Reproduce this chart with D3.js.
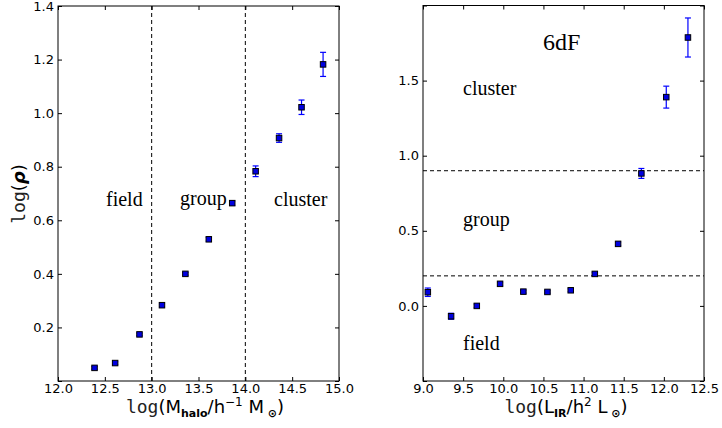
<!DOCTYPE html>
<html>
<head>
<meta charset="utf-8">
<script src="https://cdn.jsdelivr.net/npm/d3@7"></script>
<style>
  body { margin: 0; background: #fff; }
  svg { display: block; }
  .tick text { font-family: "DejaVu Sans", sans-serif; font-size: 13px; fill: #000; }
  .tick line { stroke: #000; stroke-width: 1; }
  .note { font-family: "Liberation Serif", serif; font-size: 20px; fill: #000; }
</style>
</head>
<body>
<svg id="chart" width="722" height="428"></svg>
<script>
// left panel: density vs halo mass
const massX   = [12.39, 12.61, 12.87, 13.11, 13.36, 13.61, 13.86, 14.11, 14.36, 14.60, 14.83];
const massRho = [0.049, 0.067, 0.174, 0.283, 0.400, 0.529, 0.664, 0.783, 0.907, 1.022, 1.182];
const massErr = [0.005, 0.005, 0.005, 0.005, 0.005, 0.007, 0.008, 0.020, 0.016, 0.027, 0.045];
const massCuts = [13.0, 14.0];
const massTicksX = [12.0, 12.5, 13.0, 13.5, 14.0, 14.5, 15.0];
const massTicksY = [0.0, 0.2, 0.4, 0.6, 0.8, 1.0, 1.2, 1.4];

// right panel: density vs IR luminosity (6dF)
const lirX   = [9.06, 9.35, 9.67, 9.96, 10.25, 10.55, 10.84, 11.14, 11.43, 11.72, 12.03, 12.30];
const lirRho = [0.091, -0.069, 0.0, 0.147, 0.095, 0.093, 0.104, 0.213, 0.413, 0.882, 1.39, 1.787];
const lirErr = [0.028, 0.02, 0.012, 0.01, 0.01, 0.008, 0.01, 0.01, 0.012, 0.033, 0.073, 0.13];
const lirCuts = [0.2, 0.9];
const lirTicksX = [9.0, 9.5, 10.0, 10.5, 11.0, 11.5, 12.0, 12.5];
const lirTicksY = [-0.5, 0.0, 0.5, 1.0, 1.5, 2.0];

const svg = d3.select("#chart");

function panel(opt) {
    const x = d3.scaleLinear().domain(opt.xDomain).range([opt.left, opt.right]);
    const y = d3.scaleLinear().domain(opt.yDomain).range([opt.bottom, opt.top]);
    const g = svg.append("g");
    const fmt = d3.format(".1f");

    // inward ticks on all four sides
    g.append("g")
        .attr("transform", `translate(0,${opt.bottom})`)
        .call(d3.axisBottom(x).tickValues(opt.ticksX).tickSize(-4).tickPadding(3).tickFormat(fmt));
    g.append("g")
        .attr("transform", `translate(0,${opt.top})`)
        .call(d3.axisTop(x).tickValues(opt.ticksX).tickSize(-4).tickFormat(""));
    g.append("g")
        .attr("transform", `translate(${opt.left},0)`)
        .call(d3.axisLeft(y).tickValues(opt.ticksY).tickSize(-4).tickPadding(4)
            .tickFormat(d => opt.labelY.includes(d) ? fmt(d) : ""));
    g.append("g")
        .attr("transform", `translate(${opt.right},0)`)
        .call(d3.axisRight(y).tickValues(opt.ticksY).tickSize(-4).tickFormat(""));
    g.selectAll(".domain").remove();

    g.append("rect")
        .attr("x", opt.left).attr("y", opt.top)
        .attr("width", opt.right - opt.left).attr("height", opt.bottom - opt.top)
        .attr("fill", "none").attr("stroke", "#000").attr("stroke-width", 1);

    return { x, y, g };
}

function points(p, xs, ys, es) {
    const data = xs.map((d, i) => ({ x: d, y: ys[i], e: es[i] }));
    const eb = p.g.append("g").attr("stroke", "#0000ff").attr("stroke-width", 1.2);
    eb.selectAll("line.v").data(data).join("line")
        .attr("x1", d => p.x(d.x)).attr("x2", d => p.x(d.x))
        .attr("y1", d => p.y(d.y - d.e)).attr("y2", d => p.y(d.y + d.e));
    [1, -1].forEach(s => {
        eb.selectAll("line.c" + s).data(data).join("line")
            .attr("x1", d => p.x(d.x) - 3).attr("x2", d => p.x(d.x) + 3)
            .attr("y1", d => p.y(d.y + s * d.e)).attr("y2", d => p.y(d.y + s * d.e));
    });
    p.g.append("g").selectAll("rect").data(data).join("rect")
        .attr("x", d => p.x(d.x) - 2.75).attr("y", d => p.y(d.y) - 2.75)
        .attr("width", 5.5).attr("height", 5.5)
        .attr("fill", "#0000e0").attr("stroke", "#000").attr("stroke-width", 1);
}

// ---- left panel
const L = panel({
    left: 58, right: 339, top: 6, bottom: 381,
    xDomain: [12, 15], yDomain: [0, 1.4],
    ticksX: massTicksX, ticksY: massTicksY,
    labelY: massTicksY.filter(d => d > 0)
});
L.g.selectAll("line.cut").data(massCuts).join("line")
    .attr("x1", d => L.x(d)).attr("x2", d => L.x(d))
    .attr("y1", L.y(1.4)).attr("y2", L.y(0))
    .attr("stroke", "#000").attr("stroke-dasharray", "4,3");
points(L, massX, massRho, massErr);
L.g.append("text").attr("class", "note").attr("x", 106).attr("y", 206).text("field");
L.g.append("text").attr("class", "note").attr("x", 180).attr("y", 205).text("group");
L.g.append("text").attr("class", "note").attr("x", 274).attr("y", 206).text("cluster");

// ---- right panel
const R = panel({
    left: 423, right: 704, top: 5.5, bottom: 381,
    xDomain: [9, 12.5], yDomain: [-0.5, 2.0],
    ticksX: lirTicksX, ticksY: lirTicksY,
    labelY: [0.0, 0.5, 1.0, 1.5]
});
R.g.selectAll("line.cut").data(lirCuts).join("line")
    .attr("x1", R.x(9)).attr("x2", R.x(12.5))
    .attr("y1", d => R.y(d)).attr("y2", d => R.y(d))
    .attr("stroke", "#000").attr("stroke-dasharray", "4,3");
points(R, lirX, lirRho, lirErr);
R.g.append("text").attr("class", "note").attr("x", 543).attr("y", 50).style("font-size", "24px").text("6dF");
R.g.append("text").attr("class", "note").attr("x", 463).attr("y", 95).text("cluster");
R.g.append("text").attr("class", "note").attr("x", 463).attr("y", 226).text("group");
R.g.append("text").attr("class", "note").attr("x", 463).attr("y", 350).text("field");

// ---- axis titles
function title(parent, parts) {
    const t = parent.append("text")
        .attr("text-anchor", "middle")
        .style("font-family", "DejaVu Sans, sans-serif").style("font-size", "18px");
    parts.forEach(p => {
        const s = t.append("tspan").text(p.t);
        if (p.mono) s.style("font-family", "DejaVu Sans Mono, monospace").style("fill", "#222");
        if (p.sub) s.style("font-size", "11px").style("font-weight", "bold").attr("dy", p.dy);
        if (p.sup) s.style("font-size", "12px").attr("dy", p.dy);
        if (p.back) s.attr("dy", p.dy);
        if (p.bi) s.style("font-weight", "bold").style("font-style", "italic");
    });
    return t;
}

title(svg, [
    { t: "log", mono: true }, { t: "(M" },
    { t: "halo", sub: true, dy: 4 }, { t: "/h", back: true, dy: -4 },
    { t: "\u22121", sup: true, dy: -7 }, { t: " M", back: true, dy: 7 },
    { t: " \u2299", sub: true, dy: 4 }, { t: ")", back: true, dy: -4 }
]).attr("x", 205).attr("y", 413);

title(svg, [
    { t: "log", mono: true }, { t: "(L" },
    { t: "IR", sub: true, dy: 4 }, { t: "/h", back: true, dy: -4 },
    { t: "2", sup: true, dy: -7 }, { t: " L", back: true, dy: 7 },
    { t: " \u2299", sub: true, dy: 4 }, { t: ")", back: true, dy: -4 }
]).attr("x", 566).attr("y", 413);

title(svg, [
    { t: "log", mono: true }, { t: "(" }, { t: "\u03c1", bi: true }, { t: ")" }
]).attr("transform", "translate(25,194) rotate(-90)");
</script>
</body>
</html>
